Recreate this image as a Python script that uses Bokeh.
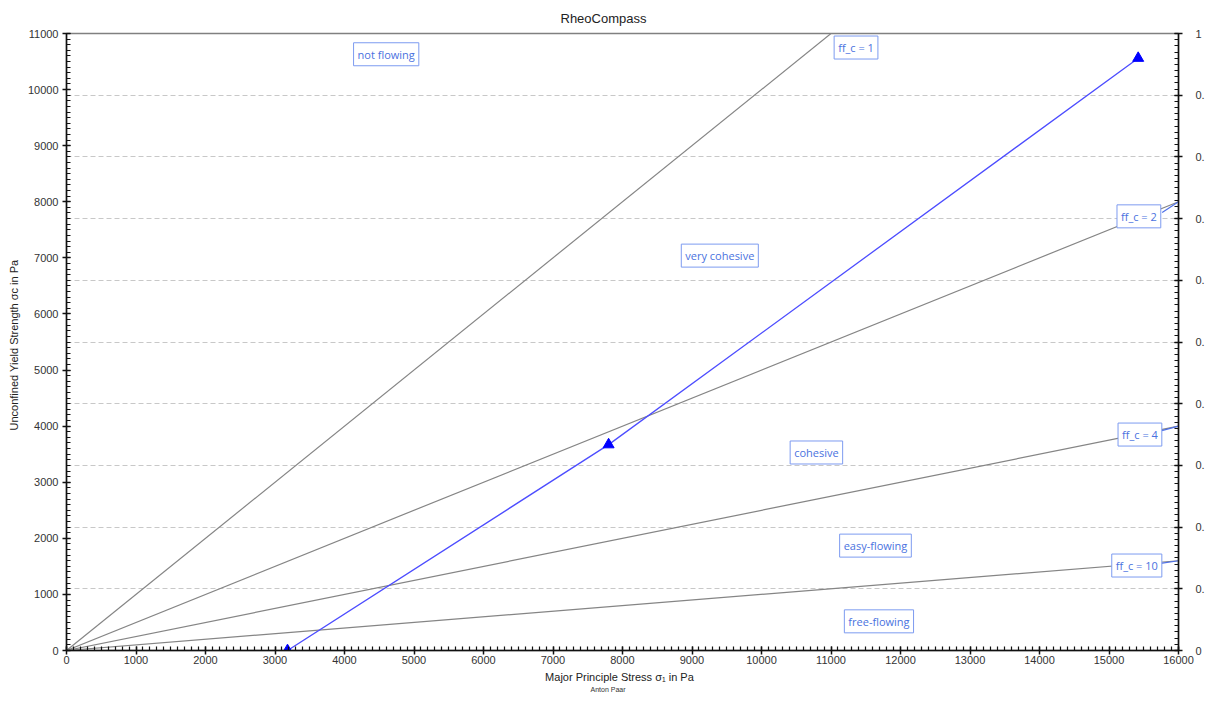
from bokeh.plotting import figure
from bokeh.models import (Range1d, LinearAxis, SingleIntervalTicker, Grid, Label,
                          CustomJSTickFormatter, Title)
from bokeh.embed import file_html
from bokeh.resources import INLINE

# ---- data ----
ff_values = [1, 2, 4, 10]
ff_labels = ["ff_c = 1", "ff_c = 2", "ff_c = 4", "ff_c = 10"]
x_max = 16000
y_max = 11000

sigma1 = [3180, 7800, 15420]
sigmac = [0, 3670, 10560]

region_names = ["not flowing", "very cohesive", "cohesive", "easy-flowing", "free-flowing"]
region_x = [4600, 9400, 10790, 11640, 11690]
region_y = [10630, 7040, 3530, 1870, 520]

ff_label_x = [11360, 15430, 15445, 15400]
ff_label_y = [10750, 7740, 3850, 1515]
leader_start_x = [None, 15765, 15760, 15720]
leader_start_y = [None, 7810, 3920, 1550]

TEXT_BLUE = "#4a72e0"
BOX_BLUE = "#7d9bf0"
FONT = "Liberation Sans"

p = figure(width=1207, height=696, output_backend="svg", toolbar_location=None,
           x_range=Range1d(0, x_max), y_range=Range1d(0, y_max),
           min_border_left=66, min_border_right=27, min_border_top=32, min_border_bottom=46)
p.title.text = "RheoCompass"
p.title.align = "left"
p.title.offset = 494
p.title.vertical_align = "bottom"
p.title.text_font = FONT
p.title.text_font_size = "13px"
p.title.text_font_style = "normal"
p.title.text_color = "#222222"
p.title.standoff = 16
p.outline_line_color = "#808080"
p.outline_line_width = 1.5
p.xgrid.visible = False
p.ygrid.visible = False

p.extra_y_ranges = {"r": Range1d(0, 1)}

xt = SingleIntervalTicker(interval=1000, num_minor_ticks=10)
yt = SingleIntervalTicker(interval=1000, num_minor_ticks=10)
rt = SingleIntervalTicker(interval=0.1, num_minor_ticks=10)

p.xaxis.ticker = xt
p.yaxis.ticker = yt
p.xaxis.axis_label = "Major Principle Stress  σ₁  in Pa"
p.yaxis.axis_label = "Unconfined Yield Strength  σc  in Pa"

raxis = LinearAxis(y_range_name="r", ticker=rt,
                   formatter=CustomJSTickFormatter(code="""
                       if (Math.abs(tick) < 1e-9) return "0";
                       if (Math.abs(tick - 1) < 1e-9) return "1";
                       return "0.";
                   """))
p.add_layout(raxis, "right")

for ax in [p.xaxis[0], p.yaxis[0], raxis]:
    ax.axis_line_color = "#111111"
    ax.axis_line_width = 1.5
    ax.major_tick_line_color = "#111111"
    ax.major_tick_line_width = 1.5
    ax.minor_tick_line_color = "#111111"
    ax.minor_tick_line_width = 1.2
    ax.major_tick_in = 4
    ax.major_tick_out = 4
    ax.minor_tick_in = 4
    ax.minor_tick_out = 0
    ax.major_label_text_font = FONT
    ax.major_label_text_font_size = "11px"
    ax.major_label_text_color = "#333333"
    ax.major_label_standoff = 4
    ax.axis_label_text_font = FONT
    ax.axis_label_text_font_size = "11px"
    ax.axis_label_text_font_style = "normal"
    ax.axis_label_text_color = "#222222"
    ax.axis_label_standoff = 5

p.xaxis[0].major_label_standoff = 1
p.xaxis[0].axis_label_standoff = 4
raxis.major_label_standoff = 13

p.add_layout(Grid(dimension=1, ticker=rt, y_range_name="r",
                  grid_line_color="#c8c8c8", grid_line_dash="5 3", grid_line_width=1))

# ff_c lines
for ff in ff_values:
    p.line([0, x_max], [0, x_max / ff], line_color="#858585", line_width=1.2)

# measured flow function
p.line(sigma1, sigmac, line_color="#4d4dff", line_width=1.3)
p.scatter(sigma1, sigmac, marker="triangle", size=11, fill_color="#0000ff",
          line_color="#0000ff")

# leader lines
for ff, sx, sy in zip(ff_values, leader_start_x, leader_start_y):
    if sx is None:
        continue
    p.line([sx, x_max], [sy, x_max / ff], line_color="#4d6fe8", line_width=1.2)

def box(x, y, text):
    p.add_layout(Label(x=x, y=y, text=text, text_align="center", text_baseline="middle",
                       text_font="Open Sans", text_font_size="11px", text_color=TEXT_BLUE,
                       background_fill_color="white", border_line_color=BOX_BLUE,
                       border_line_width=1, padding=4))

for t, x, y in zip(region_names, region_x, region_y):
    box(x, y, t)
for t, x, y in zip(ff_labels, ff_label_x, ff_label_y):
    box(x, y, t)

p.add_layout(Title(text="Anton Paar", align="left", offset=524, text_font=FONT,
                   text_font_size="7px", text_font_style="normal", text_color="#333333",
                   vertical_align="top", standoff=0), "below")

open("out.html", "w").write(file_html(p, INLINE))
